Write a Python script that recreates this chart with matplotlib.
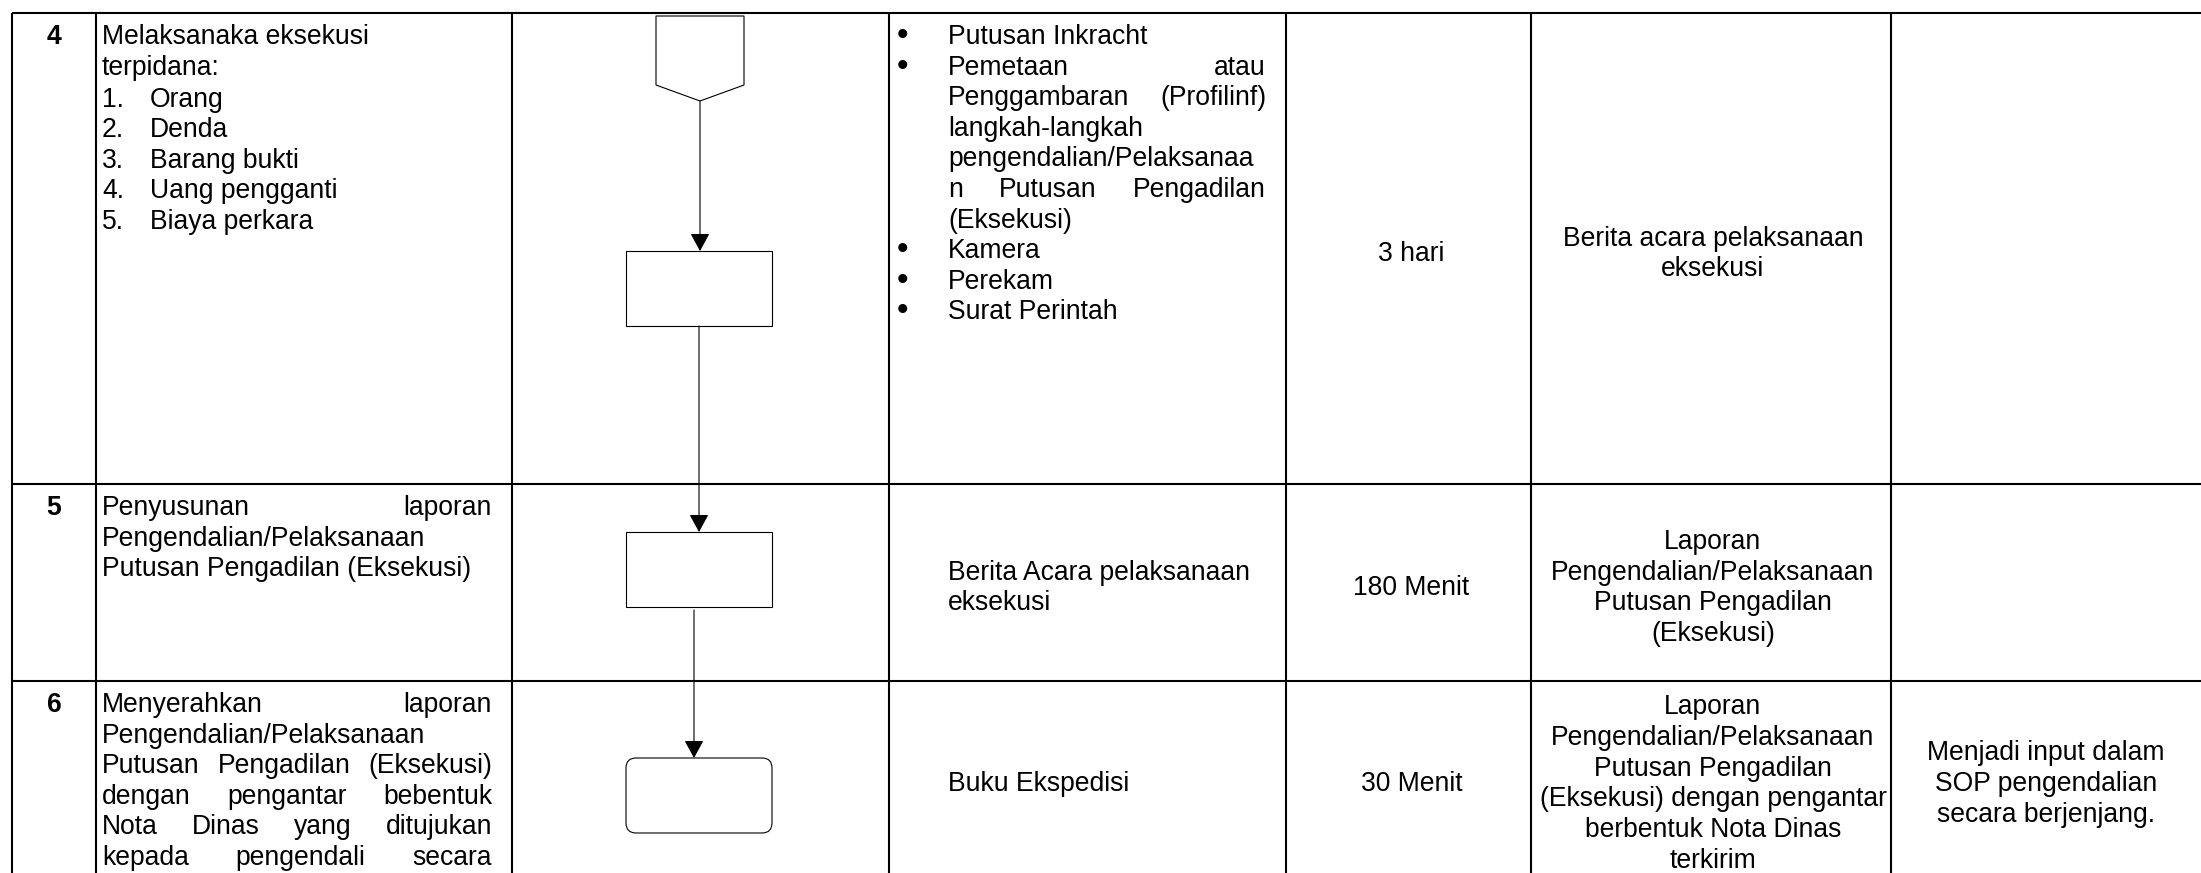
"""
Recreates one page fragment of an SOP flow table (steps 4-6):
step no, activity, flowchart lane, requirements, time, output, notes.
Saves out.png (2201x873).
"""

import matplotlib
matplotlib.use('Agg')
import matplotlib.pyplot as plt
from matplotlib.patches import Polygon, Rectangle, FancyBboxPatch

plt.rcParams['font.family'] = ['Liberation Sans', 'DejaVu Sans']

# ============================================================
# TABLE CONTENT
# ============================================================
step_numbers = ['4', '5', '6']

# each cell = list of blocks (style, lines)
activities = [
    [('left', ["Melaksanaka eksekusi", "terpidana:"]),
     ('numbered', ["Orang", "Denda", "Barang bukti", "Uang pengganti", "Biaya perkara"])],
    [('justify', ["Penyusunan laporan", "Pengendalian/Pelaksanaan",
                  "Putusan Pengadilan (Eksekusi)"])],
    [('justify_open', ["Menyerahkan laporan", "Pengendalian/Pelaksanaan",
                       "Putusan Pengadilan (Eksekusi)", "dengan pengantar bebentuk",
                       "Nota Dinas yang ditujukan", "kepada pengendali secara"])],
]

flow_shapes = ['offpage', 'process', 'process', 'terminator']

requirements = [
    [('bullet', ["Putusan Inkracht"]),
     ('bullet', ["Pemetaan atau", "Penggambaran (Profilinf)", "langkah-langkah",
                 "pengendalian/Pelaksanaa", "n Putusan Pengadilan", "(Eksekusi)"]),
     ('bullet', ["Kamera"]),
     ('bullet', ["Perekam"]),
     ('bullet', ["Surat Perintah"])],
    [('middle', ["Berita Acara pelaksanaan", "eksekusi"])],
    [('middle', ["Buku Ekspedisi"])],
]

durations = ['3 hari', '180 Menit', '30 Menit']

outputs = [
    ["Berita acara pelaksanaan", "eksekusi"],
    ["Laporan", "Pengendalian/Pelaksanaan", "Putusan Pengadilan", "(Eksekusi)"],
    ["Laporan", "Pengendalian/Pelaksanaan", "Putusan Pengadilan",
     "(Eksekusi) dengan pengantar", "berbentuk Nota Dinas", "terkirim"],
]

notes = [
    [],
    [],
    ["Menjadi input dalam", "SOP pengendalian", "secara berjenjang."],
]

# ============================================================
# LAYOUT (pixels)
# ============================================================
W, H = 2201, 873
COL_EDGES = [12, 96, 512, 889, 1286, 1531, 1891]
ROW_EDGES = [13, 484, 681, 876]
FS = 19.1
LINE = 30.6
PAD_L = 6          # text inset from column line
PAD_R = 20

fig = plt.figure(figsize=(W / 100, H / 100), dpi=100)
ax = fig.add_axes([0, 0, 1, 1])
ax.set_xlim(0, W)
ax.set_ylim(H, 0)
ax.axis('off')
renderer = fig.canvas.get_renderer()

# grid
ax.hlines(ROW_EDGES[:-1], COL_EDGES[0], W, colors='black', lw=1.5)
ax.vlines(COL_EDGES, ROW_EDGES[0], H, colors='black', lw=1.5)


def put(x, y, s, **kw):
    kw.setdefault('fontsize', FS)
    return ax.text(x, y, s, va='baseline', color='black', **kw)


def justified(words, x0, x1, y):
    items = [put(x0, y, w, ha='left') for w in words]
    widths = [t.get_window_extent(renderer).width for t in items]
    gap = (x1 - x0 - sum(widths)) / (len(words) - 1)
    x = x0
    for t, w in zip(items, widths):
        t.set_x(x)
        x += w + gap


def paragraph(lines, x0, x1, y, justify, open_end=False):
    for i, line in enumerate(lines):
        words = line.split()
        last = (i == len(lines) - 1) and not open_end
        if justify and len(words) > 1 and not last:
            justified(words, x0, x1, y + i * LINE)
        else:
            put(x0, y + i * LINE, line, ha='left')
    return y + len(lines) * LINE


def centred(lines, xc, r0, r1, ha='center', x=None):
    mid = (r0 + r1) / 2 + 12.5
    for i, line in enumerate(lines):
        y = mid + (i - (len(lines) - 1) / 2) * LINE
        put(xc if x is None else x, y, line, ha=ha)


for r, num in enumerate(step_numbers):
    top, bot = ROW_EDGES[r], ROW_EDGES[r + 1]
    first = top + 31

    # step number
    put((COL_EDGES[0] + COL_EDGES[1]) / 2, first, num, ha='center', fontweight='bold')

    # activity
    x0, x1 = COL_EDGES[1] + PAD_L, COL_EDGES[2] - PAD_R
    y = first
    for style, lines in activities[r]:
        if style == 'numbered':
            y += 1.5
            for k, item in enumerate(lines, 1):
                put(x0, y, f"{k}.", ha='left')
                put(x0 + 48, y, item, ha='left')
                y += LINE
        else:
            y = paragraph(lines, x0, x1, y, style != 'left', style == 'justify_open')

    # requirements
    x0, x1 = COL_EDGES[3], COL_EDGES[4] - PAD_R
    y = first
    for style, lines in requirements[r]:
        if style == 'bullet':
            put(x0 + 14, y + 1, '\u2022', ha='center', fontsize=FS * 1.25)
            y = paragraph(lines, x0 + 59, x1, y, True)
        else:
            centred(lines, None, top, bot, ha='left', x=x0 + 59)

    # time, output, notes
    centred([durations[r]], (COL_EDGES[4] + COL_EDGES[5]) / 2 + 3, top, bot)
    centred(outputs[r], (COL_EDGES[5] + COL_EDGES[6]) / 2 + 2, top, bot)
    if notes[r]:
        centred(notes[r], (COL_EDGES[6] + W) / 2, top, bot)

# ============================================================
# FLOWCHART LANE
# ============================================================
shape_kw = dict(facecolor='white', edgecolor='black', lw=0.8, zorder=3)
BX, BW, BH = 626, 146, 75
box_tops = {1: 251, 2: 532, 3: 758}

for i, kind in enumerate(flow_shapes):
    if kind == 'offpage':
        ax.add_patch(Polygon([(656, 16), (744, 16), (744, 85), (700, 101), (656, 85)],
                             closed=True, **shape_kw))
    elif kind == 'process':
        ax.add_patch(Rectangle((BX, box_tops[i]), BW, BH, **shape_kw))
    elif kind == 'terminator':
        rad = 10
        ax.add_patch(FancyBboxPatch((BX + rad, box_tops[i] + rad), BW - 2 * rad, BH - 2 * rad,
                                    boxstyle=f"round,pad={rad}", **shape_kw))

arrow_kw = dict(arrowstyle='-|>,head_length=0.55,head_width=0.3', mutation_scale=20,
                lw=0.8, color='black', shrinkA=0, shrinkB=0)
connectors = [(700, 101, 251), (699, 326, 532), (694, 610, 758)]
for x, y_from, y_to in connectors:
    ax.annotate('', xy=(x, y_to), xytext=(x, y_from), arrowprops=arrow_kw, zorder=4)

plt.savefig('out.png', dpi=100)
plt.close()
